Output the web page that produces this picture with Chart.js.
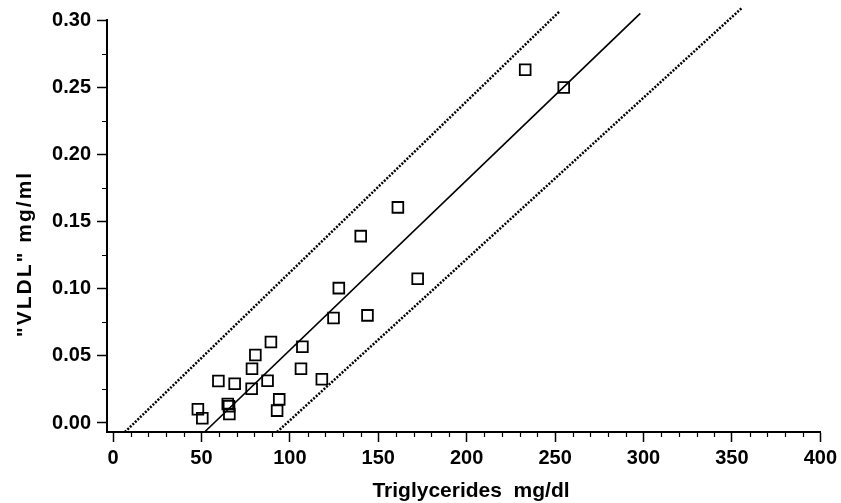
<!DOCTYPE html>
<html>
<head>
<meta charset="utf-8">
<script src="https://cdn.jsdelivr.net/npm/chart.js@4"></script>
<style>
html,body{margin:0;padding:0;background:#fff;}
#wrap{width:841px;height:503px;position:relative;}
</style>
</head>
<body>
<div id="wrap"><canvas id="c"></canvas></div>
<script>
// Scatter data (Triglycerides mg/dl vs "VLDL" mg/ml)
const triglycerides = [48.0, 50.5, 64.9, 65.6, 65.8, 59.6, 68.8, 78.4, 78.6, 80.5, 89.3, 87.4, 94.0, 92.8, 106.3, 107.1, 118.1, 124.7, 143.9, 127.7, 140.1, 161.1, 172.3, 233.1, 254.9];
const vldl = [0.0102, 0.0035, 0.0141, 0.0125, 0.0067, 0.0313, 0.0292, 0.0255, 0.0404, 0.0506, 0.0603, 0.0315, 0.0176, 0.0092, 0.0404, 0.0568, 0.0325, 0.0781, 0.0801, 0.1004, 0.1391, 0.1605, 0.1074, 0.2629, 0.2498];

// Regression line and its band (end points)
const fitX = [51.8, 298.2];
const fitY = [-0.0067, 0.305];
const upperX = [6.75, 252.6];
const upperY = [-0.0067, 0.3065];
const lowerX = [92.8, 355.5];
const lowerY = [-0.0067, 0.3088];

// Tick values
const xTicks = [0, 50, 100, 150, 200, 250, 300, 350, 400];
const yTicks = [0.00, 0.05, 0.10, 0.15, 0.20, 0.25, 0.30];
const xMinor = [10,20,30,40,60,70,80,90,110,120,130,140,160,170,180,190,210,220,230,240,260,270,280,290,310,320,330,340,360,370,380,390];
const yMinor = [0.025, 0.075, 0.125, 0.175, 0.225, 0.275];

const xTitle = 'Triglycerides  mg/dl';
const yTitle = '"VLDL" mg/ml';

const zip = (a, b) => a.map((v, i) => ({x: v, y: b[i]}));
const FONT = "'Liberation Sans', Arial, sans-serif";

const extras = {
  id: 'extras',
  afterDraw(chart) {
    const ctx = chart.ctx;
    const xs = chart.scales.x, ys = chart.scales.y;
    const area = chart.chartArea;
    ctx.save();
    ctx.strokeStyle = '#000';
    ctx.lineWidth = 1.2;
    ctx.beginPath();
    xMinor.forEach(v => {
      const px = Math.round(xs.getPixelForValue(v)) + 0.5;
      ctx.moveTo(px, area.bottom);
      ctx.lineTo(px, area.bottom + 5);
    });
    yMinor.forEach(v => {
      const py = Math.round(ys.getPixelForValue(v)) + 0.5;
      ctx.moveTo(area.left - 5, py);
      ctx.lineTo(area.left, py);
    });
    ctx.stroke();
    ctx.fillStyle = '#000';
    ctx.font = 'bold 21px ' + FONT;
    ctx.textAlign = 'center';
    ctx.textBaseline = 'alphabetic';
    ctx.fillText(xTitle, 471, 497);
    ctx.translate(31, 254);
    ctx.rotate(-Math.PI / 2);
    ctx.font = 'bold 21px ' + FONT;
    if ('letterSpacing' in ctx) ctx.letterSpacing = '2px';
    ctx.fillText(yTitle, 0, 0);
    ctx.restore();
  }
};

new Chart(document.getElementById('c'), {
  data: {
    datasets: [
      {type: 'scatter', data: zip(triglycerides, vldl), pointStyle: 'rect', pointRadius: 7.6, pointHoverRadius: 7.6,
       borderColor: '#000', backgroundColor: 'rgba(0,0,0,0)', borderWidth: 1.8, pointBorderWidth: 1.8},
      {type: 'line', data: zip(fitX, fitY), borderColor: '#000', borderWidth: 1.7, pointRadius: 0, clip: false},
      {type: 'line', data: zip(upperX, upperY), borderColor: '#000', borderWidth: 2.5, borderDash: [2, 1.5], pointRadius: 0, clip: false},
      {type: 'line', data: zip(lowerX, lowerY), borderColor: '#000', borderWidth: 2.5, borderDash: [2, 1.5], pointRadius: 0, clip: false}
    ]
  },
  options: {
    responsive: true,
    maintainAspectRatio: false,
    animation: false,
    layout: {padding: {left: 0, top: 20, right: 19, bottom: 0}},
    plugins: {legend: {display: false}, tooltip: {enabled: false}},
    scales: {
      x: {
        type: 'linear', min: -3.4, max: 400,
        afterBuildTicks: s => { s.ticks = xTicks.map(v => ({value: v})); },
        afterFit: s => { s.height = 71; },
        grid: {drawOnChartArea: false, drawTicks: true, tickLength: 10, tickWidth: 1.5, tickColor: '#000'},
        border: {display: true, color: '#000', width: 2},
        ticks: {color: '#000', font: {family: FONT, size: 20, weight: 'bold'}, padding: 4, maxRotation: 0, autoSkip: false,
                callback: v => String(v)},
        title: {display: false}
      },
      y: {
        type: 'linear', min: -0.0067, max: 0.30,
        afterBuildTicks: s => { s.ticks = yTicks.map(v => ({value: v})); },
        afterFit: s => { s.width = 107; },
        grid: {drawOnChartArea: false, drawTicks: true, tickLength: 10, tickWidth: 1.5, tickColor: '#000'},
        border: {display: true, color: '#000', width: 2},
        ticks: {color: '#000', font: {family: FONT, size: 20, weight: 'bold'}, padding: 6, autoSkip: false,
                callback: v => Number(v).toFixed(2)},
        title: {display: false}
      }
    }
  },
  plugins: [extras]
});
</script>
</body>
</html>
